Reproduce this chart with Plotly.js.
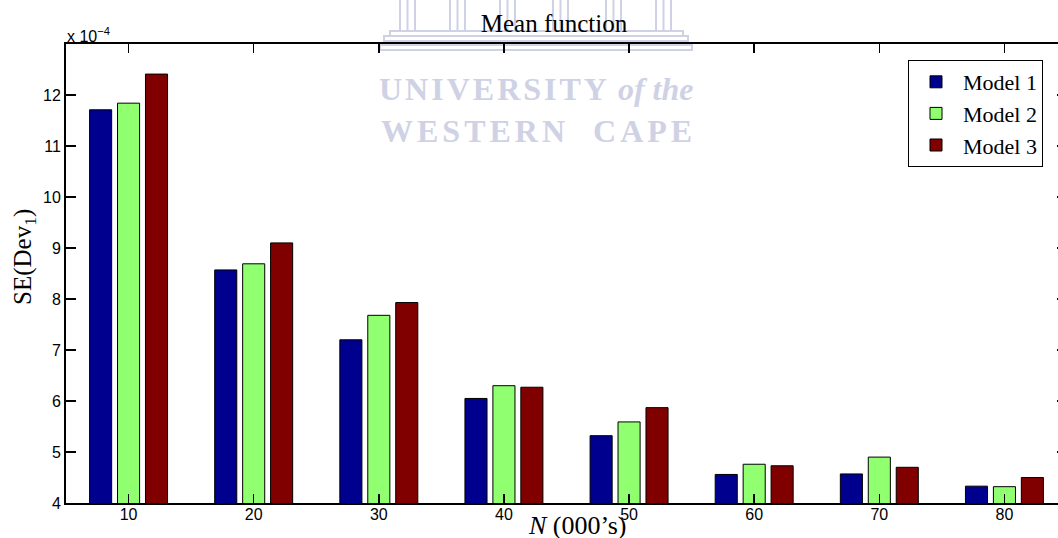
<!DOCTYPE html>
<html>
<head>
<meta charset="utf-8">
<script src="https://cdn.plot.ly/plotly-3.0.1.min.js"></script>
<style>
  html, body { margin: 0; padding: 0; overflow: hidden; background: #fff; }
  #chart { width: 1075px; height: 538px; }
</style>
</head>
<body>
<div id="chart"></div>
<script>
// ---- data (values in units of 1e-4) ----
const categories = [10, 20, 30, 40, 50, 60, 70, 80];
const seriesNames = ["Model 1", "Model 2", "Model 3"];
const model1 = [11.71, 8.57, 7.20, 6.05, 5.32, 4.56, 4.57, 4.33];
const model2 = [11.84, 8.69, 7.68, 6.30, 5.59, 4.76, 4.90, 4.32];
const model3 = [12.41, 9.10, 7.93, 6.27, 5.87, 4.73, 4.70, 4.50];
const yTicks = [4, 5, 6, 7, 8, 9, 10, 11, 12];
const seriesColors = ["#00008f", "#90ff70", "#800000"];

const W = 1075, H = 538, ML = 66, MR = 8, MT = 44, MB = 35;
const PW = W - ML - MR, PH = H - MT - MB;
const px = x => (x - ML) / PW;
const py = y => (H - MB - y) / PH;

const SERIF = "Liberation Serif, Times New Roman, serif";
const SANS = "Liberation Sans, Arial, sans-serif";

const values = [model1, model2, model3];
const traces = values.map((v, i) => ({
  type: "bar",
  name: seriesNames[i],
  x: categories,
  y: v,
  marker: { color: seriesColors[i], line: { color: "#000", width: 1 } }
}));

// watermark (university logo) shapes
const wm = "#cfd2e5";
const shapes = [];
const colX = [400, 450, 500, 553, 606, 656];
colX.forEach(cx => {
  shapes.push({ type: "rect", xref: "paper", yref: "paper", x0: px(cx), x1: px(cx + 15),
    y0: py(31), y1: py(-2), line: { color: wm, width: 2 }, layer: "below" });
  shapes.push({ type: "line", xref: "paper", yref: "paper", x0: px(cx + 7.5), x1: px(cx + 7.5),
    y0: py(31), y1: py(-2), line: { color: wm, width: 2 }, layer: "below" });
});
[[390, 683, 31, 36], [384, 688, 36, 41], [380, 692, 45, 50]].forEach(s => {
  shapes.push({ type: "rect", xref: "paper", yref: "paper", x0: px(s[0]), x1: px(s[1]),
    y0: py(s[3]), y1: py(s[2]), line: { color: wm, width: 2 }, layer: "below" });
});

const annotations = [
  { xref: "paper", yref: "paper", x: px(377), y: py(89), xanchor: "left", yanchor: "middle",
    showarrow: false,
    text: '<span style="letter-spacing:3px">UNIVERSITY</span> <i>of the</i>',
    font: { family: SERIF, size: 32, color: wm, weight: "bold" } },
  { xref: "paper", yref: "paper", x: px(379), y: py(131), xanchor: "left", yanchor: "middle",
    showarrow: false,
    text: '<span style="letter-spacing:4px">WESTERN  CAPE</span>',
    font: { family: SERIF, size: 32, color: wm, weight: "bold" } },
  { xref: "paper", yref: "paper", x: px(65), y: py(35), xanchor: "left", yanchor: "middle",
    showarrow: false, text: "x 10<sup>\u22124</sup>",
    font: { family: SANS, size: 16, color: "#000" } },
  { xref: "paper", yref: "paper", x: px(577), y: py(525), xanchor: "center", yanchor: "middle",
    showarrow: false, text: "<i>N</i> (000\u2019s)",
    font: { family: SERIF, size: 26, color: "#000" } },
  { xref: "paper", yref: "paper", x: px(24), y: py(257), xanchor: "center", yanchor: "middle",
    textangle: -90, showarrow: false, text: "SE(Dev<sub>1</sub>)",
    font: { family: SERIF, size: 25, color: "#000" } }
];

const layout = {
  width: W, height: H,
  margin: { l: ML, r: MR, t: MT, b: MB, pad: 0 },
  paper_bgcolor: "#fff", plot_bgcolor: "rgba(0,0,0,0)",
  barmode: "group", bargap: 0.33, bargroupgap: 0.21,
  title: { text: "Mean function", x: px(554), xref: "paper", xanchor: "center",
    y: 1 - 23 / H, yanchor: "middle",
    font: { family: SERIF, size: 25, color: "#000" } },
  xaxis: {
    range: [5, 85], tickvals: categories, ticktext: categories.map(String),
    ticks: "inside", ticklen: 9, tickwidth: 1.5, tickcolor: "#000",
    showline: true, linecolor: "#000", linewidth: 2, mirror: "allticks",
    showgrid: false, zeroline: false, ticklabelstandoff: -4,
    tickfont: { family: SANS, size: 16, color: "#000" }
  },
  yaxis: {
    range: [4, 13], tickvals: yTicks, ticktext: yTicks.map(String),
    ticks: "inside", ticklen: 10, tickwidth: 1.5, tickcolor: "#000",
    showline: true, linecolor: "#000", linewidth: 2, mirror: "allticks",
    showgrid: false, zeroline: false,
    tickfont: { family: SANS, size: 16, color: "#000" }
  },
  showlegend: true,
  legend: {
    x: px(1043), y: py(60), xanchor: "right", yanchor: "top",
    bgcolor: "#fff", bordercolor: "#000", borderwidth: 1,
    font: { family: SERIF, size: 22, color: "#000" },
    tracegroupgap: 0, itemwidth: 44
  },
  shapes: shapes,
  annotations: annotations
};

Plotly.newPlot("chart", traces, layout, { displayModeBar: false, staticPlot: true });
</script>
</body>
</html>
